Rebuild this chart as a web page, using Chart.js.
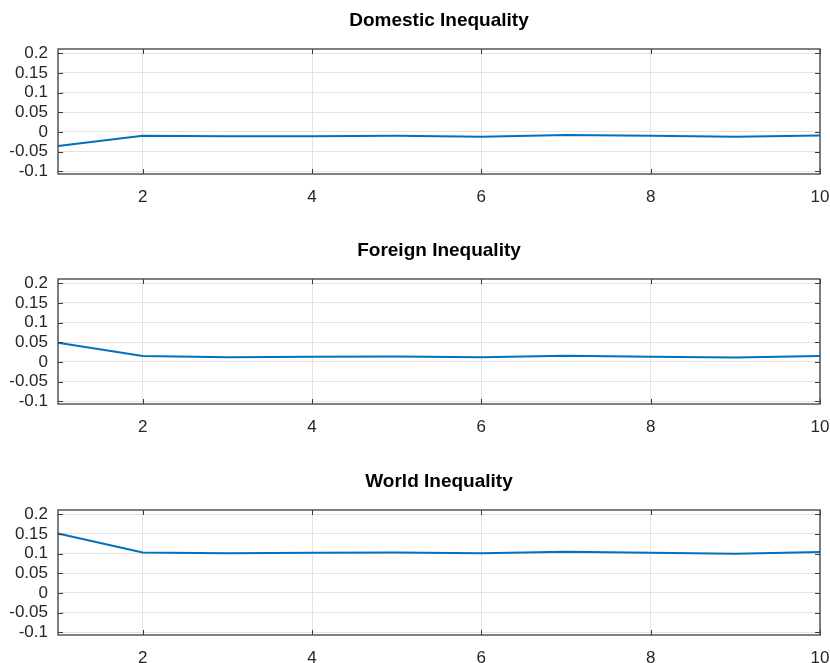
<!DOCTYPE html>
<html>
<head>
<meta charset="utf-8">
<script src="https://cdn.jsdelivr.net/npm/chart.js@4/dist/chart.umd.min.js"></script>
<style>
  html, body { margin: 0; padding: 0; background: #fff; overflow: hidden; }
  #wrap { position: relative; width: 830px; height: 663px; }
  canvas { position: absolute; left: 0; }
</style>
</head>
<body>
<div id="wrap">
  <canvas id="c1" width="830" height="202" style="top:0px"></canvas>
  <canvas id="c2" width="830" height="202" style="top:230px"></canvas>
  <canvas id="c3" width="830" height="202" style="top:461px"></canvas>
</div>
<script>
const periods = [1, 2, 3, 4, 5, 6, 7, 8, 9, 10];
const domesticValues = [-0.036, -0.010, -0.011, -0.011, -0.010, -0.012, -0.008, -0.010, -0.012, -0.009];
const foreignValues = [0.049, 0.015, 0.012, 0.013, 0.014, 0.012, 0.016, 0.013, 0.011, 0.015];
const worldValues = [0.151, 0.103, 0.101, 0.102, 0.103, 0.101, 0.105, 0.102, 0.100, 0.104];
const panelTitles = ['Domestic Inequality', 'Foreign Inequality', 'World Inequality'];
const xTickValues = [2, 4, 6, 8, 10];
const yTickValues = [-0.1, -0.05, 0, 0.05, 0.1, 0.15, 0.2];
const yTickLabels = ['-0.1', '-0.05', '0', '0.05', '0.1', '0.15', '0.2'];

const FONT = "'Liberation Sans', Arial, Helvetica, sans-serif";
const AXIS_COLOR = '#3a3a3a';

const boxPlugin = {
  id: 'matlabBox',
  afterDatasetsDraw(chart) {
    const { ctx, chartArea: a, scales } = chart;
    ctx.save();
    ctx.strokeStyle = AXIS_COLOR;
    ctx.lineWidth = 1;
    const tl = 5;
    ctx.beginPath();
    xTickValues.forEach(v => {
      const px = Math.round(scales.x.getPixelForValue(v)) + 0.5;
      ctx.moveTo(px, a.bottom); ctx.lineTo(px, a.bottom - tl);
      ctx.moveTo(px, a.top); ctx.lineTo(px, a.top + tl);
    });
    yTickValues.forEach(v => {
      const py = Math.round(scales.y.getPixelForValue(v)) + 0.5;
      ctx.moveTo(a.left, py); ctx.lineTo(a.left + tl, py);
      ctx.moveTo(a.right, py); ctx.lineTo(a.right - tl, py);
    });
    ctx.stroke();
    ctx.lineWidth = 1.4;
    ctx.strokeStyle = '#4a4a4a';
    ctx.strokeRect(a.left, a.top, a.right - a.left, a.bottom - a.top);
    ctx.restore();
  }
};

function makePanel(id, title, values) {
  const pts = periods.map((p, i) => ({ x: p, y: values[i] }));
  new Chart(document.getElementById(id), {
    type: 'line',
    data: {
      datasets: [{
        data: pts,
        borderColor: '#0072BD',
        borderWidth: 2,
        pointRadius: 0,
        tension: 0,
        fill: false,
        clip: 3
      }]
    },
    options: {
      responsive: false,
      animation: false,
      events: [],
      layout: { padding: { top: 0, right: 10, bottom: 0, left: 0 } },
      plugins: {
        legend: { display: false },
        tooltip: { enabled: false },
        title: {
          display: true,
          text: title,
          fullSize: false,
          color: '#000',
          font: { family: FONT, size: 19, weight: 'bold', lineHeight: 1.2 },
          padding: { top: 9, bottom: 17.2 }
        }
      },
      scales: {
        x: {
          type: 'linear',
          min: 1,
          max: 10,
          afterBuildTicks: s => { s.ticks = xTickValues.map(v => ({ value: v })); },
          afterFit: s => { s.height = 28; s.paddingLeft = 0; s.paddingRight = 0; },
          grid: { color: '#e3e3e3', lineWidth: 1, drawTicks: false },
          border: { display: false },
          ticks: {
            color: '#262626',
            font: { family: FONT, size: 17 },
            padding: 13,
            maxRotation: 0,
            autoSkip: false,
            callback: v => String(v)
          }
        },
        y: {
          type: 'linear',
          min: -0.107,
          max: 0.211,
          afterBuildTicks: s => { s.ticks = yTickValues.map(v => ({ value: v })); },
          afterFit: s => { s.width = 58; s.paddingTop = 0; s.paddingBottom = 0; },
          grid: { color: '#e3e3e3', lineWidth: 1, drawTicks: false },
          border: { display: false },
          ticks: {
            color: '#262626',
            font: { family: FONT, size: 17 },
            padding: 10,
            autoSkip: false,
            callback: (v) => {
              const i = yTickValues.findIndex(t => Math.abs(t - v) < 1e-9);
              return i >= 0 ? yTickLabels[i] : '';
            }
          }
        }
      }
    },
    plugins: [boxPlugin]
  });
}

makePanel('c1', panelTitles[0], domesticValues);
makePanel('c2', panelTitles[1], foreignValues);
makePanel('c3', panelTitles[2], worldValues);
</script>
</body>
</html>
